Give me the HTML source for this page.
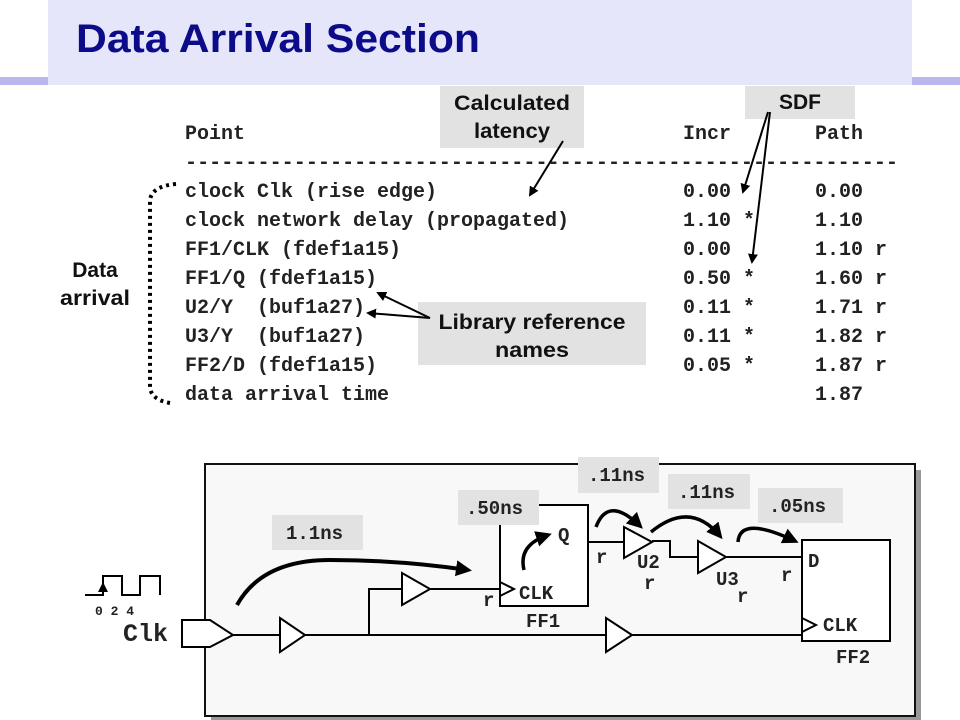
<!DOCTYPE html>
<html><head><meta charset="utf-8"><style>
html,body{margin:0;padding:0;background:#fff;width:960px;height:720px;overflow:hidden}
svg{display:block}
.m{font-family:"Liberation Mono",monospace;font-weight:bold;font-size:20px;fill:#222;white-space:pre}
.d{font-family:"Liberation Mono",monospace;font-weight:bold;font-size:19px;fill:#222}
.s{font-family:"Liberation Sans",Arial,sans-serif;font-weight:bold;fill:#111}
</style></head><body>
<svg width="960" height="720" viewBox="0 0 960 720" xmlns="http://www.w3.org/2000/svg">
<defs>
<marker id="ah" markerWidth="10" markerHeight="10" refX="8" refY="5" orient="auto" markerUnits="userSpaceOnUse"><path d="M0,0 L10,5 L0,10 Z" fill="#000"/></marker>
<marker id="bh" markerWidth="16" markerHeight="16" refX="12" refY="8" orient="auto" markerUnits="userSpaceOnUse"><path d="M0,0 L16,8 L0,16 Z" fill="#000"/></marker>
</defs>
<rect x="0" y="77" width="960" height="8" fill="#b8b8ee"/>
<rect x="48" y="0" width="864" height="85" fill="#e6e6fa"/>
<text x="76" y="52" class="s" font-size="40" textLength="404" lengthAdjust="spacingAndGlyphs" style="fill:#0c0c8a">Data Arrival Section</text>
<rect x="440" y="86" width="144" height="62" fill="#e2e2e2"/>
<text x="512" y="110" class="s" font-size="21" text-anchor="middle" textLength="116" lengthAdjust="spacingAndGlyphs">Calculated</text>
<text x="512" y="138" class="s" font-size="21" text-anchor="middle" textLength="76" lengthAdjust="spacingAndGlyphs">latency</text>
<rect x="745" y="86" width="110" height="33" fill="#e2e2e2"/>
<text x="800" y="109" class="s" font-size="21" text-anchor="middle">SDF</text>
<rect x="418" y="302" width="228" height="63" fill="#e2e2e2"/>
<text x="532" y="329" class="s" font-size="21" text-anchor="middle" textLength="187" lengthAdjust="spacingAndGlyphs">Library reference</text>
<text x="532" y="357" class="s" font-size="21" text-anchor="middle" textLength="74" lengthAdjust="spacingAndGlyphs">names</text>
<g class="m">
<text x="185" y="139">Point</text><text x="683" y="139">Incr</text><text x="815" y="139">Path</text>
<text x="185" y="168" textLength="713" lengthAdjust="spacingAndGlyphs">-----------------------------------------------------------</text>
<text x="185" y="197">clock Clk (rise edge)</text><text x="683" y="197">0.00</text><text x="815" y="197">0.00</text>
<text x="185" y="226">clock network delay (propagated)</text><text x="683" y="226">1.10 *</text><text x="815" y="226">1.10</text>
<text x="185" y="255">FF1/CLK (fdef1a15)</text><text x="683" y="255">0.00</text><text x="815" y="255">1.10 r</text>
<text x="185" y="284">FF1/Q (fdef1a15)</text><text x="683" y="284">0.50 *</text><text x="815" y="284">1.60 r</text>
<text x="185" y="313">U2/Y&#160;&#160;(buf1a27)</text><text x="683" y="313">0.11 *</text><text x="815" y="313">1.71 r</text>
<text x="185" y="342">U3/Y&#160;&#160;(buf1a27)</text><text x="683" y="342">0.11 *</text><text x="815" y="342">1.82 r</text>
<text x="185" y="371">FF2/D (fdef1a15)</text><text x="683" y="371">0.05 *</text><text x="815" y="371">1.87 r</text>
<text x="185" y="400">data arrival time</text><text x="815" y="400">1.87</text>
</g>
<g stroke="#000" stroke-width="2" fill="none">
<line x1="563" y1="141" x2="530" y2="195" marker-end="url(#ah)"/>
<line x1="768" y1="112" x2="743" y2="192" marker-end="url(#ah)"/>
<line x1="770" y1="112" x2="752" y2="262" marker-end="url(#ah)"/>
<line x1="430" y1="318" x2="378" y2="293" marker-end="url(#ah)"/>
<line x1="430" y1="318" x2="368" y2="313" marker-end="url(#ah)"/>
<path d="M176,184 Q152,186 150,200 L150,388 Q152,400 170,403" stroke-width="4" stroke-dasharray="3,4"/>
</g>
<text x="95" y="277" class="s" font-size="21" text-anchor="middle">Data</text>
<text x="95" y="305" class="s" font-size="21" text-anchor="middle" textLength="70" lengthAdjust="spacingAndGlyphs">arrival</text>
<rect x="211" y="470" width="710" height="252" fill="#999"/>
<rect x="205" y="464" width="710" height="252" fill="#f8f8f8" stroke="#111" stroke-width="2"/>
<g stroke="#000" stroke-width="2" fill="none">
<line x1="233" y1="635" x2="802" y2="635"/>
<polyline points="369,635 369,589 500,589"/>
<polyline points="588,542 625,542"/>
<polyline points="652,541 670,541 670,557 698,557"/>
<line x1="726" y1="557" x2="802" y2="557"/>
<rect x="500" y="505" width="88" height="101" fill="#fff"/>
<rect x="802" y="540" width="88" height="101" fill="#fff"/>
<polyline points="500,582 514,589 500,596"/>
<polyline points="802,618 816,625 802,632"/>
<path d="M182,620 L210,620 L233,635 L210,647 L182,647 Z" fill="#fff"/>
<path d="M280,618 L305,635 L280,652 Z" fill="#fff"/>
<path d="M402,573 L430,589 L402,605 Z" fill="#fff"/>
<path d="M606,618 L632,635 L606,652 Z" fill="#fff"/>
<path d="M624,527 L652,542 L624,558 Z" fill="#fff"/>
<path d="M698,541 L726,557 L698,573 Z" fill="#fff"/>
<polyline points="85,595 103,595 103,576 122,576 122,595 140,595 140,576 160,576 160,595"/>
</g>
<rect x="272" y="515" width="91" height="35" fill="#e2e2e2"/>
<rect x="458" y="490" width="81" height="35" fill="#e2e2e2"/>
<rect x="578" y="457" width="81" height="36" fill="#e2e2e2"/>
<rect x="668" y="474" width="82" height="35" fill="#e2e2e2"/>
<rect x="758" y="488" width="85" height="35" fill="#e2e2e2"/>
<g class="d">
<text x="286" y="539">1.1ns</text>
<text x="466" y="514">.50ns</text>
<text x="588" y="481">.11ns</text>
<text x="678" y="498">.11ns</text>
<text x="769" y="512">.05ns</text>
</g>
<g stroke="#000" stroke-width="4" fill="none">
<path d="M237,605 Q262,560 330,560 Q400,560 468,570" marker-end="url(#bh)"/>
<path d="M524,570 Q518,545 548,535" stroke-width="3.5" marker-end="url(#bh)"/>
<path d="M596,527 Q608,495 640,526" stroke-width="3.5" marker-end="url(#bh)"/>
<path d="M651,532 Q690,500 720,536" stroke-width="3.5" marker-end="url(#bh)"/>
<path d="M738,542 Q740,515 795,541" stroke-width="3.5" marker-end="url(#bh)"/>
<path d="M103,594 L103,584" stroke-width="2" marker-end="url(#ah)"/>
</g>
<g class="d">
<text x="519" y="599">CLK</text><text x="558" y="541">Q</text>
<text x="483" y="606">r</text><text x="526" y="627">FF1</text>
<text x="596" y="563">r</text><text x="637" y="568">U2</text><text x="644" y="589">r</text>
<text x="716" y="585">U3</text><text x="737" y="602">r</text>
<text x="781" y="581">r</text><text x="808" y="567">D</text>
<text x="823" y="631">CLK</text><text x="836" y="663">FF2</text>
<text x="123" y="641" style="font-size:25px">Clk</text>
<text x="95" y="615" style="font-size:13px">0 2 4</text>
</g>
</svg>
</body></html>
